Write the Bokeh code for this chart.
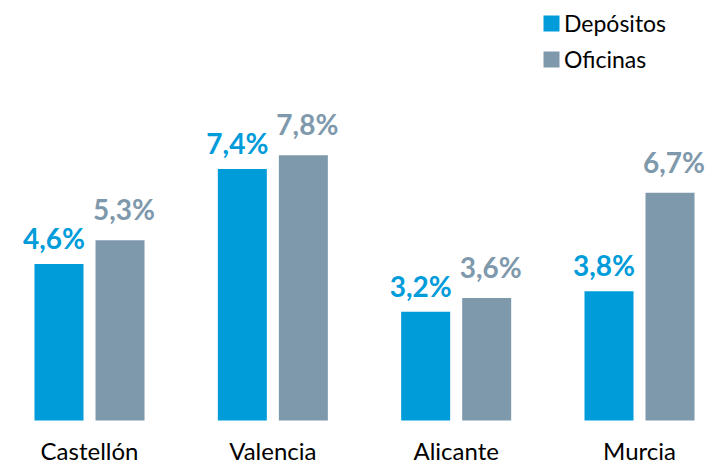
from bokeh.plotting import figure
from bokeh.models import Range1d, ColumnDataSource, Legend, LegendItem
from bokeh.core.properties import value
from bokeh.embed import file_html
from bokeh.resources import INLINE

categories = ["Castellón", "Valencia", "Alicante", "Murcia"]
depositos = [4.6, 7.4, 3.2, 3.8]
oficinas = [5.3, 7.8, 3.6, 6.7]
series_names = ["Depósitos", "Oficinas"]

BLUE = "#009CDA"
GRAY = "#7F99AC"
FONT = "Lato"

def fmt(v):
    return f"{v:.1f}%".replace(".", ",")

idx = list(range(len(categories)))
off = 0.1664
bw = 0.2673

src_d = ColumnDataSource(dict(x=[i - off for i in idx], top=depositos,
                              lab=[fmt(v) for v in depositos]))
src_o = ColumnDataSource(dict(x=[i + off for i in idx], top=oficinas,
                              lab=[fmt(v) for v in oficinas]))
src_c = ColumnDataSource(dict(x=idx, y=[0] * len(idx), lab=categories))

p = figure(width=716, height=464, output_backend="svg", toolbar_location=None,
           x_range=Range1d(-0.4855, 3.42), y_range=Range1d(-1.294, 12.353),
           min_border=0, min_border_left=0, min_border_right=0,
           min_border_top=0, min_border_bottom=0)
p.axis.visible = False
p.grid.visible = False
p.outline_line_color = None
p.background_fill_color = "white"

r_d = p.vbar(x="x", top="top", width=bw, bottom=0, source=src_d,
             fill_color=BLUE, line_color=None)
r_o = p.vbar(x="x", top="top", width=bw, bottom=0, source=src_o,
             fill_color=GRAY, line_color=None)

p.text(x="x", y="top", text="lab", source=src_d, text_font=value(FONT),
       text_font_style="bold", text_font_size="28px", text_color=BLUE,
       text_align="center", text_baseline="alphabetic", x_offset=-5, y_offset=-26)
p.text(x="x", y="top", text="lab", source=src_o, text_font=value(FONT),
       text_font_style="bold", text_font_size="28px", text_color=GRAY,
       text_align="center", text_baseline="alphabetic", x_offset=4, y_offset=-31)

p.text(x="x", y="y", text="lab", source=src_c, text_font=value(FONT),
       text_font_size="24px", text_color="#000000", text_align="center",
       text_baseline="alphabetic", y_offset=30)

legend = Legend(items=[LegendItem(label=series_names[0], renderers=[r_d]),
                       LegendItem(label=series_names[1], renderers=[r_o])],
                location="top_right")
legend.label_text_font = FONT
legend.label_text_font_size = "23px"
legend.label_text_color = "#000000"
legend.glyph_width = 20
legend.glyph_height = 20
legend.spacing = 8
legend.label_standoff = 3
legend.padding = 0
legend.margin = 0
legend.border_line_color = None
legend.background_fill_alpha = 0
legend.label_height = 27
p.add_layout(legend)
legend.location = (541, 464 - 73)

open("out.html", "w").write(file_html(p, INLINE))
